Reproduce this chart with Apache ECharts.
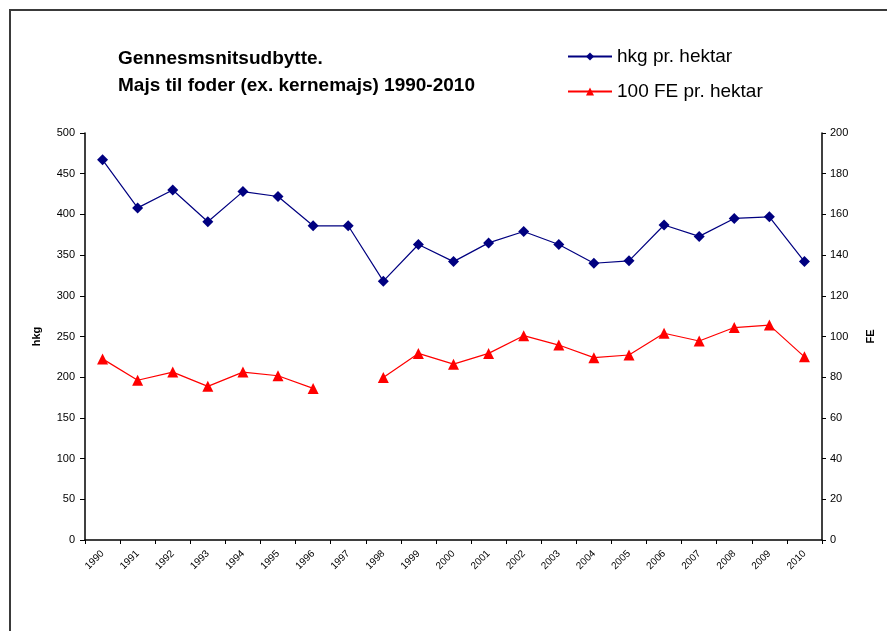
<!DOCTYPE html>
<html>
<head>
<meta charset="utf-8">
<script src="https://cdn.jsdelivr.net/npm/echarts@6/dist/echarts.min.js"></script>
<style>
html,body{margin:0;padding:0;background:#fff;}
#c{width:887px;height:631px;}
</style>
</head>
<body>
<div id="c"></div>
<script>
const years = ['1990','1991','1992','1993','1994','1995','1996','1997','1998','1999','2000','2001','2002','2003','2004','2005','2006','2007','2008','2009','2010'];
const hkgPerHektar = [467,408,430,391,428,422,386,386,318,363,342,365,379,363,340,343,387,373,395,397,342];
const feHundredPerHektar = [89,78.5,82.5,75.5,82.5,80.7,74.5,null,79.8,91.7,86.4,91.7,100.4,95.8,89.6,90.9,101.6,97.8,104.4,105.6,90];
const leftTicks = {min:0, max:500, interval:50};
const rightTicks = {min:0, max:200, interval:20};

const chart = echarts.init(document.getElementById('c'));
const font = '"Liberation Sans", Arial, sans-serif';
chart.setOption({
  animation: false,
  backgroundColor: '#fff',
  textStyle: {fontFamily: font},
  graphic: [
    {type:'rect', shape:{x:10,y:10,width:900,height:700}, style:{fill:'none', stroke:'#3a3a3a', lineWidth:2}},
    {type:'text', left:118, top:49, style:{text:'Gennesmsnitsudbytte.', font:'bold 19px '+font, fill:'#000'}},
    {type:'text', left:118, top:76, style:{text:'Majs til foder (ex. kernemajs) 1990-2010', font:'bold 19px '+font, fill:'#000'}}
  ],
  legend: {
    orient: 'vertical',
    left: 562, top: 42,
    itemGap: 16,
    itemWidth: 44, itemHeight: 10,
    textStyle: {fontSize: 19, color:'#000', fontFamily: font},
    data: ['hkg pr. hektar','100 FE pr. hektar']
  },
  grid: {left: 85, right: 65, top: 133, bottom: 91, containLabel: false},
  xAxis: {
    type: 'category',
    data: years,
    boundaryGap: true,
    axisLine: {lineStyle:{color:'#000', width:1.5}},
    axisTick: {show:true, alignWithLabel:false, length:4, inside:false, lineStyle:{color:'#000'}},
    axisLabel: {rotate: 45, fontSize: 10, color:'#000', interval:0, margin: 12}
  },
  yAxis: [
    {
      type: 'value', name: 'hkg', nameLocation: 'middle', nameGap: 43, nameRotate: 90,
      nameTextStyle: {fontWeight:'bold', fontSize: 11, color:'#000'},
      min: leftTicks.min, max: leftTicks.max, interval: leftTicks.interval,
      axisLine: {show:true, lineStyle:{color:'#000', width:1.5}},
      axisTick: {show:true, length:5, lineStyle:{color:'#000'}},
      axisLabel: {fontSize: 11, color:'#000', margin: 10},
      splitLine: {show:false}
    },
    {
      type: 'value', name: 'FE', nameLocation: 'middle', nameGap: 43, nameRotate: 90,
      nameTextStyle: {fontWeight:'bold', fontSize: 11, color:'#000'},
      position: 'right',
      min: rightTicks.min, max: rightTicks.max, interval: rightTicks.interval,
      axisLine: {show:true, lineStyle:{color:'#000', width:1.5}},
      axisTick: {show:true, length:4, lineStyle:{color:'#000'}},
      axisLabel: {fontSize: 11, color:'#000', margin: 8},
      splitLine: {show:false}
    }
  ],
  series: [
    {
      name: 'hkg pr. hektar', type: 'line', yAxisIndex: 0,
      data: hkgPerHektar,
      symbol: 'diamond', symbolSize: 11,
      itemStyle: {color:'#000080'},
      lineStyle: {color:'#000080', width:1.2}
    },
    {
      name: '100 FE pr. hektar', type: 'line', yAxisIndex: 1,
      data: feHundredPerHektar,
      connectNulls: false,
      symbol: 'triangle', symbolSize: 11,
      itemStyle: {color:'#ff0000'},
      lineStyle: {color:'#ff0000', width:1.2}
    }
  ]
});
</script>
</body>
</html>
